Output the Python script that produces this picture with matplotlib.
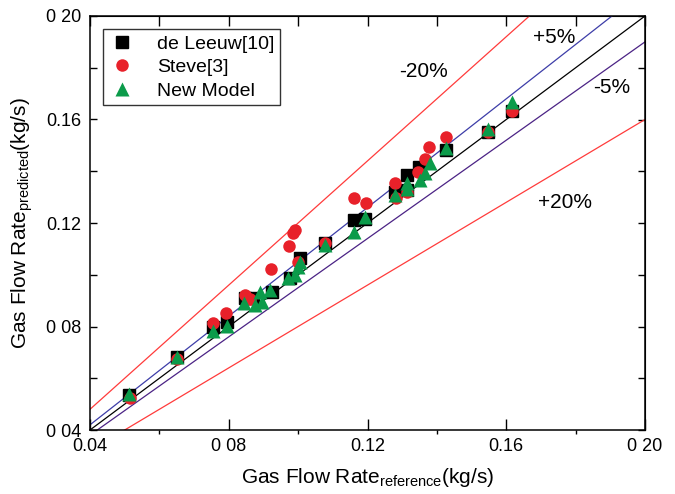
import numpy as np
import matplotlib
matplotlib.use("Agg")
import matplotlib.pyplot as plt

plt.rcParams['font.family'] = ['Liberation Sans', 'DejaVu Sans']
plt.rcParams['mathtext.fontset'] = 'custom'
plt.rcParams['mathtext.rm'] = 'Liberation Sans'

# de Leeuw[10] correlation (reference, predicted)
leeuw_ref = [0.0512, 0.0651, 0.0755, 0.0794, 0.0847, 0.0870, 0.0924, 0.0977, 0.1005,
             0.1077, 0.1161, 0.1193, 0.1279, 0.1314, 0.1315, 0.1349, 0.1426, 0.1548, 0.1616]
leeuw_pred = [0.0535, 0.0682, 0.0797, 0.0819, 0.0909, 0.0910, 0.0935, 0.0986, 0.1064,
              0.1122, 0.1212, 0.1214, 0.1321, 0.1329, 0.1386, 0.1415, 0.1482, 0.1553, 0.1633]

# Steve[3] correlation
steve_ref = [0.0515, 0.0651, 0.0755, 0.0792, 0.0847, 0.0861, 0.0922, 0.0975, 0.0986,
             0.0991, 0.1000, 0.1077, 0.1161, 0.1195, 0.1279, 0.1282, 0.1315, 0.1346,
             0.1366, 0.1378, 0.1426, 0.1548, 0.1616]
steve_pred = [0.0524, 0.0674, 0.0815, 0.0851, 0.0922, 0.0906, 0.1021, 0.1111, 0.1160,
              0.1173, 0.1050, 0.1122, 0.1295, 0.1276, 0.1353, 0.1295, 0.1321, 0.1398,
              0.1446, 0.1493, 0.1531, 0.1553, 0.1633]

# new model
new_ref = [0.0512, 0.0651, 0.0755, 0.0794, 0.0845, 0.0876, 0.0890, 0.0895, 0.0919,
           0.0972, 0.0991, 0.1000, 0.1005, 0.1077, 0.1161, 0.1193, 0.1279, 0.1313,
           0.1315, 0.1351, 0.1366, 0.1380, 0.1426, 0.1548, 0.1616]
new_pred = [0.0539, 0.0682, 0.0783, 0.0802, 0.0890, 0.0883, 0.0935, 0.0896, 0.0941,
            0.0986, 0.0999, 0.1031, 0.1050, 0.1115, 0.1166, 0.1222, 0.1308, 0.1353,
            0.1330, 0.1366, 0.1392, 0.1433, 0.1489, 0.1562, 0.1669]

# error bands: slope factor, label, label position
bands = [1.20, 1.05, 1.00, 0.95, 0.80]
band_colors = ['#ff3b3b', '#3d3da8', 'black', '#4b2385', '#ff3b3b']
band_labels = ['-20%', '+5%', '-5%', '+20%']
band_label_xy = [(0.136, 0.1784), (0.1738, 0.1915), (0.1905, 0.1722), (0.1769, 0.1281)]

tick_vals = [0.04, 0.08, 0.12, 0.16, 0.20]
xtick_labels = ['0.04', '0 08', '0.12', '0.16', '0 20']
ytick_labels = ['0 04', '0 08', '0.12', '0.16', '0 20']

fig = plt.figure(figsize=(6.75, 4.94), dpi=100)
ax = fig.add_axes([90/675, 64/494, 555/675, 414/494])

xx = np.array([0.04, 0.20])
for k, c in zip(bands, band_colors):
    ax.plot(xx, k*xx, color=c, lw=0.9, zorder=1)

ax.plot(leeuw_ref, leeuw_pred, 's', color='black', ms=8, label='de Leeuw[10]', zorder=3)
ax.plot(steve_ref, steve_pred, 'o', color='#e8212a', ms=9, mec='none', label='Steve[3]', zorder=4)
ax.plot(new_ref, new_pred, '^', color='#0b9b4a', ms=9.5, mec='none', label='New Model', zorder=5)

for txt, (tx, ty) in zip(band_labels, band_label_xy):
    ax.text(tx, ty, txt, fontsize=15, ha='center', va='center')

ax.set_xlim(0.04, 0.20)
ax.set_ylim(0.04, 0.20)

ax.set_xticks(tick_vals)
ax.set_xticklabels(xtick_labels)
ax.set_xticks([0.06, 0.10, 0.14, 0.18], minor=True)
ax.set_yticks(tick_vals)
ax.set_yticklabels(ytick_labels)
ax.set_yticks([0.06, 0.10, 0.14, 0.18], minor=True)

ax.tick_params(axis='x', which='major', direction='in', length=8, width=1, labelsize=13, pad=6)
ax.tick_params(axis='x', which='minor', direction='out', length=3, width=1)
ax.tick_params(axis='y', which='both', direction='in', length=5, width=1, labelsize=13, pad=6)

# top and right frames carry plain ticks every 0.02
top = ax.secondary_xaxis('top')
top.set_xticks(np.arange(0.04, 0.201, 0.02))
top.tick_params(direction='in', length=7, width=1, labeltop=False)
right = ax.secondary_yaxis('right')
right.set_yticks(np.arange(0.04, 0.201, 0.02))
right.tick_params(direction='in', length=5, width=1, labelright=False)

for s in ax.spines.values():
    s.set_linewidth(1.1)

ax.set_xlabel(r'Gas Flow Rate$_{\mathrm{reference}}$(kg/s)', fontsize=15, labelpad=8)
ax.set_ylabel(r'Gas Flow Rate$_{\mathrm{predicted}}$(kg/s)', fontsize=15, labelpad=8)

leg = ax.legend(loc='upper left', bbox_to_anchor=(0.023, 0.968), borderaxespad=0,
                fontsize=14, frameon=True, fancybox=False, framealpha=1,
                edgecolor='#333333', handlelength=1.4, handletextpad=1.1,
                labelspacing=0.3, borderpad=0.3)
leg.get_frame().set_linewidth(1.0)

fig.savefig('out.png', dpi=100)
